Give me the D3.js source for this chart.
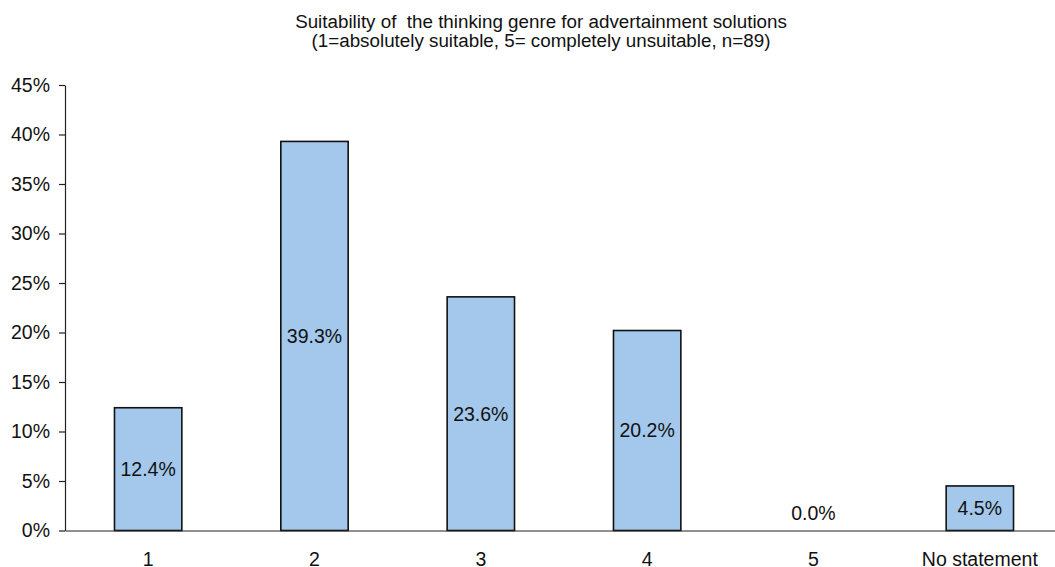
<!DOCTYPE html>
<html>
<head>
<meta charset="utf-8">
<script src="https://cdn.jsdelivr.net/npm/d3@7"></script>
<style>
  html, body { margin: 0; padding: 0; background: #fff; }
  svg { display: block; font-family: "Liberation Sans", Arial, sans-serif; }
  .title { white-space: pre; }
</style>
</head>
<body>
<svg id="chart" width="1055" height="567"></svg>
<script>
// Survey answers: share of respondents per rating
const categories = ["1", "2", "3", "4", "5", "No statement"];
const shares = [12.4, 39.3, 23.6, 20.2, 0.0, 4.5];
const yTicks = [0, 5, 10, 15, 20, 25, 30, 35, 40, 45];
const titleLines = [
  "Suitability of  the thinking genre for advertainment solutions",
  "(1=absolutely suitable, 5= completely unsuitable, n=89)"
];

const svg = d3.select("#chart");
const plotLeft = 65, plotRight = 1063, plotTop = 85, plotBottom = 530.5;
const fontSize = 19.5;

const x = d3.scaleBand().domain(categories).range([plotLeft, plotRight])
  .paddingInner(0.595).paddingOuter(0.2975);
const y = d3.scaleLinear().domain([0, 45]).range([plotBottom, plotTop]);

// Title
svg.append("g").selectAll("text").data(titleLines).join("text")
  .attr("class", "title")
  .attr("x", 541).attr("y", (d, i) => 28 + i * 19)
  .attr("text-anchor", "middle").attr("font-size", 18.8).attr("fill", "#111")
  .text(d => d);

// Bars
svg.append("g").selectAll("rect").data(shares).join("rect")
  .attr("x", (d, i) => x(categories[i]))
  .attr("y", d => y(d))
  .attr("width", x.bandwidth())
  .attr("height", d => y(0) - y(d))
  .attr("fill", "#a3c8ec")
  .attr("stroke", "#111").attr("stroke-width", 1.6)
  .attr("display", d => d > 0 ? null : "none");

// Y axis
const yAxis = d3.axisLeft(y).tickValues(yTicks).tickSize(6).tickSizeOuter(0)
  .tickFormat(d => d + "%");
const gy = svg.append("g").attr("transform", `translate(${plotLeft},0)`).call(yAxis);
gy.select(".domain").attr("stroke", "#222").attr("stroke-width", 1.2);
gy.selectAll(".tick line").attr("stroke", "#222").attr("stroke-width", 1.2);
gy.selectAll(".tick text").attr("font-size", fontSize).attr("fill", "#111")
  .attr("x", -15).attr("font-family", "Liberation Sans, Arial, sans-serif");

// X axis
const xAxis = d3.axisBottom(x).tickSize(0).tickPadding(22);
const gx = svg.append("g").attr("transform", `translate(0,${plotBottom})`).call(xAxis);
gx.select(".domain").attr("stroke", "#222").attr("stroke-width", 1.2);
gx.selectAll(".tick text").attr("font-size", fontSize).attr("fill", "#111")
  .attr("font-family", "Liberation Sans, Arial, sans-serif");

// Value labels, centred inside each bar
svg.append("g").selectAll("text").data(shares).join("text")
  .attr("x", (d, i) => x(categories[i]) + x.bandwidth() / 2)
  .attr("y", d => Math.min((y(d) + y(0)) / 2, y(0) - 17))
  .attr("dy", "0.35em")
  .attr("text-anchor", "middle").attr("font-size", fontSize).attr("fill", "#111")
  .text(d => d.toFixed(1) + "%");
</script>
</body>
</html>
